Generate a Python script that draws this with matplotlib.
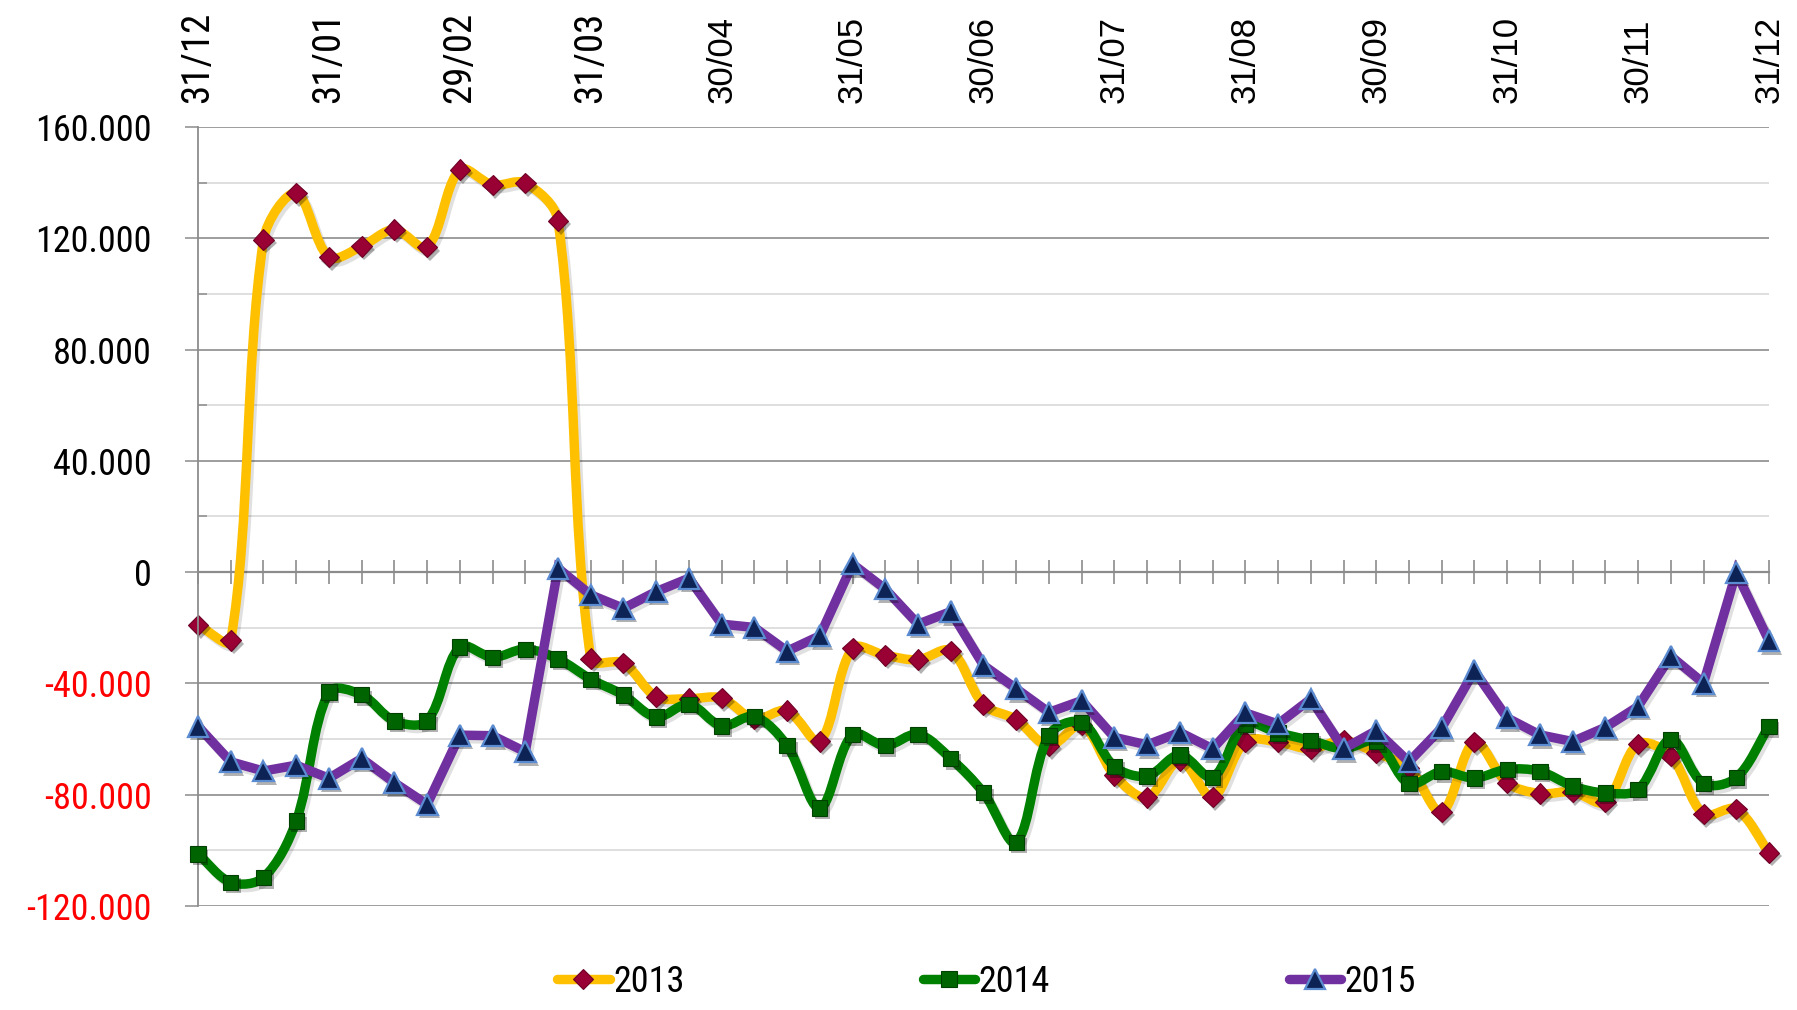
import matplotlib
matplotlib.use("Agg")
import matplotlib.pyplot as plt
from matplotlib import font_manager as fm
from matplotlib.path import Path
from matplotlib.patches import PathPatch
from matplotlib.lines import Line2D
import matplotlib.patheffects as pe
import numpy as np

# ---------------- data ----------------
weeks = list(range(49))
month_ticks = [0, 4, 8, 12, 16, 20, 24, 28, 32, 36, 40, 44, 48]
month_labels = ['31/12', '31/01', '29/02', '31/03', '30/04', '31/05', '30/06',
                '31/07', '31/08', '30/09', '31/10', '30/11', '31/12']

s2013 = [-19000, -24500, 119500, 136200, 113200, 117100, 123100, 116800, 144600,
         139200, 139800, 126300, -31100, -32700, -44800, -45500, -45300, -52800,
         -49800, -60800, -27400, -29900, -31500, -28300, -47600, -53000, -62500,
         -55000, -73000, -81000, -67700, -80800, -60900, -61100, -63500, -60500,
         -65000, -70500, -86200, -61100, -75700, -79600, -79000, -82600, -61800,
         -66100, -87000, -85200, -100800]
s2014 = [-101300, -111500, -109800, -89500, -43100, -44100, -53500, -53500, -26900,
         -30600, -27700, -31200, -38500, -44200, -52100, -47500, -55300, -51900,
         -62400, -84800, -58400, -62400, -58300, -67000, -79300, -97100, -58600,
         -54000, -69900, -73300, -65700, -73700, -54600, -57800, -60500, -63500,
         -60900, -76000, -71700, -74000, -70900, -71600, -76900, -79400, -78200,
         -60100, -76000, -73900, -55500]
s2015 = [-55400, -68200, -71500, -69400, -74100, -67000, -75700, -83500, -58600,
         -58800, -64600, 1400, -8200, -13000, -7000, -2200, -18700, -19900,
         -28400, -22900, 2900, -6100, -18700, -14200, -33500, -41900, -50400,
         -46200, -59400, -62100, -57600, -63500, -50600, -54600, -45600, -63500,
         -57000, -68200, -56000, -35500, -52400, -58500, -60900, -55800, -48300,
         -30200, -39900, -100, -24700]
series_names = ['2013', '2014', '2015']

y_major = [-120000, -80000, -40000, 0, 40000, 80000, 120000, 160000]
y_minor = [-100000, -60000, -20000, 20000, 60000, 100000, 140000]
y_labels = ['-120.000', '-80.000', '-40.000', '0', '40.000', '80.000', '120.000', '160.000']

# ---------------- fonts ----------------
def find_condensed():
    prefs = ['LiberationSansNarrow-Regular', 'RobotoCondensed-Regular',
             'NotoSans-Condensed.', 'NotoSans-CondensedRegular', 'OpenSans_Condensed-Regular',
             'DejaVuSansCondensed.']
    files = [f.fname for f in fm.fontManager.ttflist]
    for p in prefs:
        for f in files:
            if p in f.split('/')[-1]:
                return f
    for f in files:
        base = f.split('/')[-1]
        if ('Condensed' in base or 'Narrow' in base) and not any(
                k in base for k in ['Bold', 'Italic', 'Oblique', 'Light', 'Thin', 'Black', 'Medium', 'Semi', 'Extra']):
            return f
    return None

cond_file = find_condensed()
def cond(size):
    if cond_file:
        return fm.FontProperties(fname=cond_file, size=size)
    return fm.FontProperties(family='DejaVu Sans', size=size)

arial = fm.FontProperties(family=['Liberation Sans', 'DejaVu Sans'], size=25)

# ---------------- figure ----------------
fig = plt.figure(figsize=(17.97, 10.10), dpi=100)
ax = fig.add_axes([0.1102, 0.1030, 0.9844 - 0.1102, 0.8743 - 0.1030])
ax.set_xlim(0, 48)
ax.set_ylim(-120000, 160000)

grid_dark = '#8C8C8C'
grid_light = '#D9D9D9'

ax.set_yticks(y_major, y_labels)
ax.set_yticks(y_minor, minor=True)
ax.yaxis.grid(True, which='major', color=grid_dark, lw=1.2, zorder=0)
ax.yaxis.grid(True, which='minor', color=grid_light, lw=1.2, zorder=0)
ax.set_axisbelow(True)
ax.tick_params(axis='y', which='major', direction='out', length=9.5, width=1.1,
               color=grid_dark, pad=24)
ax.tick_params(axis='y', which='minor', direction='in', length=6.5, width=1.1,
               color=grid_dark)
for lbl, v in zip(ax.get_yticklabels(), y_major):
    lbl.set_fontproperties(cond(26))
    lbl.set_color('#FF0000' if v < 0 else 'black')

for s in ['top', 'right']:
    ax.spines[s].set_visible(False)
ax.spines['left'].set_color(grid_dark)
ax.spines['left'].set_linewidth(1.3)
ax.spines['bottom'].set_position(('data', 0))
ax.spines['bottom'].set_color(grid_dark)
ax.spines['bottom'].set_linewidth(1.6)
ax.spines['bottom'].set_zorder(1.5)
ax.set_xticks(weeks)
ax.tick_params(axis='x', which='major', direction='inout', length=17, width=1.2,
               color=grid_dark, labelbottom=False)

sec = ax.secondary_xaxis('top')
sec.set_xticks(month_ticks, month_labels)
sec.tick_params(axis='x', length=0, pad=17, rotation=90)
sec.spines['top'].set_visible(False)
for i, lbl in enumerate(sec.get_xticklabels()):
    if i < 4:
        lbl.set_fontproperties(cond(28))
    else:
        lbl.set_fontproperties(arial)
    lbl.set_color('black')

fig.canvas.draw()

# ---------------- smoothed path (Excel-like bezier, built in display space) -------------
def smooth_path(xs, ys):
    pts = ax.transData.transform(np.column_stack([xs, ys]))
    n = len(pts)
    verts = [pts[0]]
    codes = [Path.MOVETO]
    for i in range(n - 1):
        p0 = pts[i - 1] if i > 0 else pts[i]
        p1 = pts[i]
        p2 = pts[i + 1]
        p3 = pts[i + 2] if i + 2 < n else pts[i + 1]
        d01 = np.hypot(*(p1 - p0))
        d12 = np.hypot(*(p2 - p1))
        d23 = np.hypot(*(p3 - p2))
        f1 = d12 / (d01 + d12) / 3 if (d01 + d12) > 0 else 0
        f2 = d12 / (d12 + d23) / 3 if (d12 + d23) > 0 else 0
        c1 = p1 + (p2 - p0) * f1
        c2 = p2 - (p3 - p1) * f2
        verts += [c1, c2, p2]
        codes += [Path.CURVE4] * 3
    disp = np.array(verts)
    data = ax.transData.inverted().transform(disp)
    return Path(data, codes)

line_shadow = [pe.SimpleLineShadow(offset=(2, -2.5), shadow_color='black', alpha=0.12),
               pe.Normal()]
mark_shadow = [pe.SimplePatchShadow(offset=(2, -2.5), shadow_rgbFace='black', alpha=0.3),
               pe.Normal()]

styles = [
    dict(color='#FFC000', marker='D', mfc='#990033', mec='#6E0025', ms=10.5, mew=0.8, smooth=True),
    dict(color='#008000', marker='s', mfc='#006400', mec='#004000', ms=11, mew=0.8, smooth=True),
    dict(color='#7030A0', marker='^', mfc='#0D2355', mec='#5B8BD0', ms=15, mew=1.6, smooth=False),
]
LW = 6.8
handles = []
for k, (vals, st) in enumerate(zip([s2013, s2014, s2015], styles)):
    z = 2 + k
    if st['smooth']:
        patch = PathPatch(smooth_path(weeks, vals), facecolor='none', edgecolor=st['color'],
                          lw=LW, capstyle='round', joinstyle='round', zorder=z, clip_on=False)
        patch.set_path_effects(line_shadow)
        ax.add_patch(patch)
    else:
        ln, = ax.plot(weeks, vals, color=st['color'], lw=LW, solid_joinstyle='miter',
                      solid_capstyle='round', zorder=z, clip_on=False)
        ln.set_path_effects(line_shadow)
    mk, = ax.plot(weeks, vals, linestyle='none', marker=st['marker'], mfc=st['mfc'],
                  mec=st['mec'], ms=st['ms'], mew=st['mew'], zorder=z + 0.5, clip_on=False)
    mk.set_path_effects(mark_shadow)
    handles.append(Line2D([], [], color=st['color'], lw=LW, solid_capstyle='round',
                          marker=st['marker'], mfc=st['mfc'], mec=st['mec'],
                          ms=st['ms'], mew=st['mew']))

fig.legend(handles, series_names, loc='center', bbox_to_anchor=(0.549, 0.028), ncol=3,
           frameon=False, handlelength=1.45, handletextpad=0.1, columnspacing=6.6,
           numpoints=1, prop=cond(26))

fig.savefig('out.png', dpi=100)
